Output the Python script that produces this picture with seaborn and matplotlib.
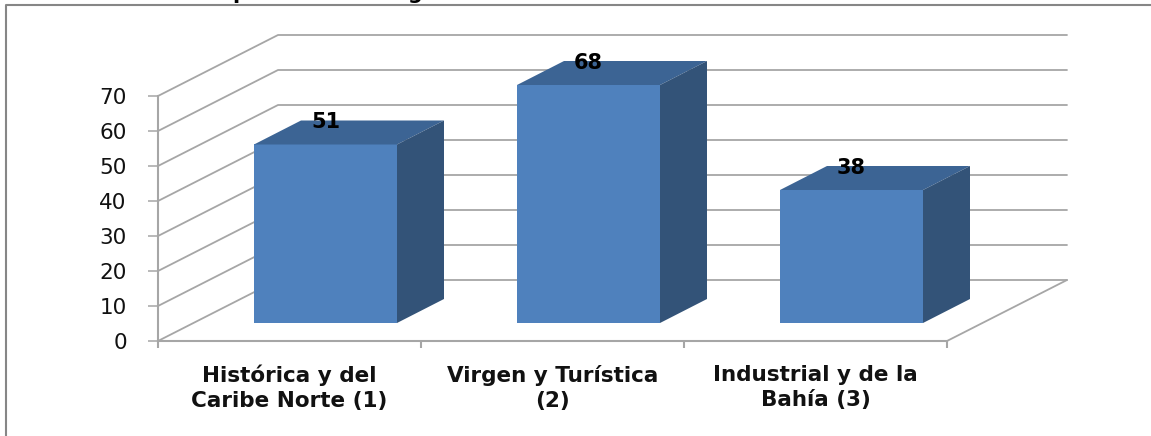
import matplotlib
matplotlib.use("Agg")
import matplotlib.pyplot as plt
from matplotlib.lines import Line2D
from matplotlib.patches import Polygon
import pandas as pd
import seaborn as sns

categories = ["Histórica y del\nCaribe Norte (1)", "Virgen y Turística\n(2)", "Industrial y de la\nBahía (3)"]
values = [51, 68, 38]
y_ticks = [0, 10, 20, 30, 40, 50, 60, 70]

W, H = 1151, 436
FRONT = "#4F81BD"
TOP = "#3C6494"
SIDE = "#335378"
GRID = "#A6A6A6"
FRAME = "#868686"
TEXT = "#111111"

sns.set_theme(style="white")
plt.rcParams["font.family"] = ["DejaVu Sans"]


def px_axes(fig, left, right, top, bottom):
    # axes placed by pixel edges of the reference
    return fig.add_axes([left / W, 1 - bottom / H, (right - left) / W, (bottom - top) / H])


fig = plt.figure(figsize=(W / 100, H / 100), dpi=100, facecolor="white")

# wall/floor axes, front plane of the 3d box
ax = px_axes(fig, 158, 947, 96, 341)
ax.set_xlim(-0.5, 2.5)
ax.set_ylim(0, 70)
ax.patch.set_alpha(0)
for s in ["top", "right"]:
    ax.spines[s].set_visible(False)
for s in ["left", "bottom"]:
    ax.spines[s].set_color(GRID)
    ax.spines[s].set_linewidth(1.5)
ax.set_yticks(y_ticks)
ax.set_xticks(range(3), categories, fontweight="bold")
ax.set_xticks([-0.5, 0.5, 1.5, 2.5], minor=True)
ax.tick_params(axis="y", length=7.5, width=1.1, color=GRID, labelsize=15.5, labelcolor=TEXT, pad=15, left=True)
ax.tick_params(axis="x", which="major", length=0, labelsize=15.5, labelcolor=TEXT, pad=17, bottom=False)
ax.tick_params(axis="x", which="minor", length=5, width=1.5, color=GRID, bottom=True)
for lab in ax.get_xticklabels():
    lab.set_linespacing(1.32)

# wall depth in data units of ax
wall_dx = 120 / 263
wall_dy = 61 / 3.5
for v in y_ticks:
    ax.plot([-0.5, -0.5 + wall_dx, 2.5 + wall_dx], [v, v + wall_dy, v + wall_dy],
            color=GRID, lw=1.3, clip_on=False, zorder=1)
ax.plot([2.5, 2.5 + wall_dx], [0, wall_dy], color=GRID, lw=1.3, clip_on=False, zorder=1)

# bars sit halfway into the box, on their own axes
ax_bars = px_axes(fig, 194, 983, 78, 323)
df = pd.DataFrame({"zona": categories, "valor": values})
sns.barplot(data=df, x="zona", y="valor", ax=ax_bars, color=FRONT, saturation=1, width=143 / 263, zorder=3)
ax_bars.set_xlim(-0.5, 2.5)
ax_bars.set_ylim(0, 70)
ax_bars.axis("off")

bar_dx = 47 / 263
bar_dy = 24 / 3.5
for i, p in enumerate(ax_bars.patches):
    x0, x1 = p.get_x(), p.get_x() + p.get_width()
    h = p.get_height()
    p.set_edgecolor("none")
    ax_bars.add_patch(Polygon([(x0, h), (x1, h), (x1 + bar_dx, h + bar_dy), (x0 + bar_dx, h + bar_dy)],
                              fc=TOP, ec="none", clip_on=False, zorder=3))
    ax_bars.add_patch(Polygon([(x1, 0), (x1 + bar_dx, bar_dy), (x1 + bar_dx, h + bar_dy), (x1, h)],
                              fc=SIDE, ec="none", clip_on=False, zorder=3))
    ax_bars.text(i, h + 22 / 3.5, str(values[i]), ha="center", va="center", fontsize=15, fontweight="bold",
                 color="black", clip_on=False, zorder=5)

# chart frame, cut by the image edge
fig.add_artist(Line2D([6 / W, 6 / W, 1], [0, 1 - 5 / H, 1 - 5 / H], color=FRAME, lw=1.5))

# title is cropped off, only its descenders are left
fig.text(240 / W, 1 + 1 / H, "p", ha="center", va="baseline", fontsize=15, fontweight="bold", color="black")
fig.text(415 / W, 1 + 1 / H, "g", ha="center", va="baseline", fontsize=15, fontweight="bold", color="black")

fig.savefig("out.png", dpi=100)
